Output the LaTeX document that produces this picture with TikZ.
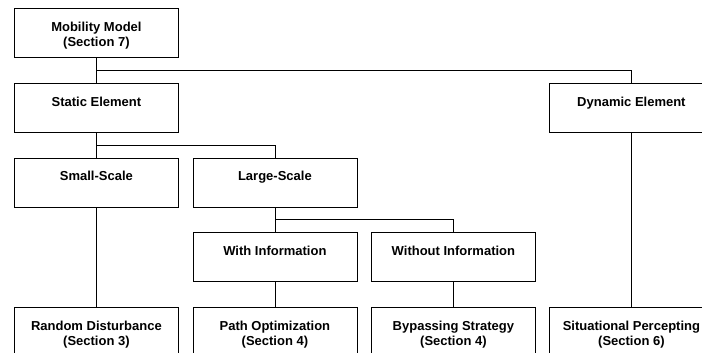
\documentclass[tikz,border=0pt]{standalone}
\usepackage{fontspec}
\setmainfont{Liberation Sans}
\begin{document}
\begin{tikzpicture}[x=1pt,y=-1pt,
  box/.style={draw=black, line width=0.8pt, anchor=north west, align=center,
    inner sep=0pt, minimum width=164pt, text height=38.2pt, text depth=10.8pt,
    font=\bfseries\fontsize{13}{15.5}\selectfont},
  link/.style={draw=black, line width=0.8pt}]
\clip (0,0) rectangle (702,353);
\useasboundingbox (0,0) rectangle (702,353);
\node[box] (mm) at (14,8) {Mobility Model\\(Section 7)};
\node[box] (st) at (14,83) {Static Element\\\mbox{}};
\node[box] (dy) at (549,83) {Dynamic Element\\\mbox{}};
\node[box] (sm) at (14,157.5) {Small-Scale\\\mbox{}};
\node[box] (lg) at (192.5,157.5) {Large-Scale\\\mbox{}};
\node[box] (wi) at (192.5,232) {With Information\\\mbox{}};
\node[box] (wo) at (371,232) {Without Information\\\mbox{}};
\node[box] (rd) at (14,307) {Random Disturbance\\(Section 3)};
\node[box] (po) at (192.5,307) {Path Optimization\\(Section 4)};
\node[box] (bs) at (371,307) {Bypassing Strategy\\(Section 4)};
\node[box] (sp) at (549,307) {Situational Percepting\\(Section 6)};
\draw[link] (mm.south) -- (st.north);
\draw[link] (mm.south) -- ++(0,13) -| (dy.north);
\draw[link] (st.south) -- (sm.north);
\draw[link] (st.south) -- ++(0,13) -| (lg.north);
\draw[link] (lg.south) -- (wi.north);
\draw[link] (lg.south) -- ++(0,12.5) -| (wo.north);
\draw[link] (sm.south) -- (rd.north);
\draw[link] (wi.south) -- (po.north);
\draw[link] (wo.south) -- (bs.north);
\draw[link] (dy.south) -- (sp.north);
\end{tikzpicture}
\end{document}
